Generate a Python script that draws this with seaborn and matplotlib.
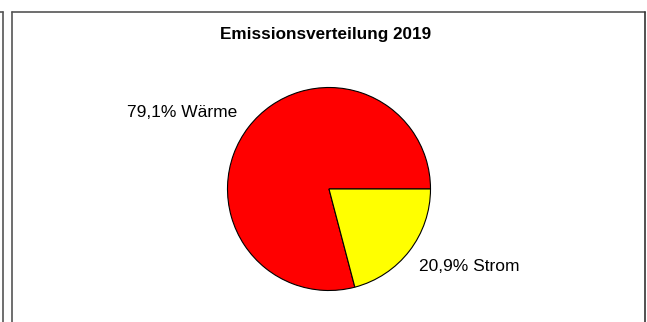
import matplotlib
matplotlib.use("Agg")
import matplotlib.pyplot as plt
import seaborn as sns
from matplotlib.lines import Line2D

# data
categories = ["Wärme", "Strom"]
shares = [79.1, 20.9]
colors = ["#FF0000", "#FFFF00"]
title = "Emissionsverteilung 2019"
# label anchor points (pie units) as placed in the original chart
label_pos = [(-0.905, 0.75), (0.885, -0.76)]

sns.set_style("white")
plt.rcParams['font.family'] = ['Liberation Sans', 'DejaVu Sans']

W, H = 647, 322
fig = plt.figure(figsize=(W / 100, H / 100), dpi=100)

# pie axes: center (329, 189), radius ~101 px
r = 101.5
cx, cy = 329, 189
ax = fig.add_axes([(cx - r) / W, (H - cy - r) / H, 2 * r / W, 2 * r / H])

labels = [f"{v:.1f}% {c}".replace(".", ",") for c, v in zip(categories, shares)]
wedges, texts = ax.pie(shares, labels=labels, colors=colors, startangle=0,
                       counterclock=True, labeldistance=1.17,
                       wedgeprops=dict(edgecolor="black", linewidth=0.8))
for t, pos in zip(texts, label_pos):
    t.set_fontsize(12.5)
    t.set_color("black")
    t.set_position(pos)
    t.set_va("center")
ax.set_xlim(-1, 1)
ax.set_ylim(-1, 1)
ax.set_aspect("equal")
ax.axis("off")

fig.text(326 / W, 1 - 34 / H, title, ha="center", va="center",
         fontsize=12.3, fontweight="bold", color="black")

# chart frame lines (figure pixels)
def px_line(x0, y0, x1, y1, lw=1.2, color="#555555"):
    fig.add_artist(Line2D([x0 / W, x1 / W], [1 - y0 / H, 1 - y1 / H],
                          transform=fig.transFigure, color=color, lw=lw))

px_line(11.5, 11.5, 644.5, 11.5)
px_line(11.5, 11.5, 11.5, 322)
px_line(644.5, 11.5, 644.5, 322, color="#333333")
px_line(2.5, 11.5, 2.5, 322)
px_line(0, 11.5, 3, 11.5)

fig.savefig("out.png", dpi=100)
